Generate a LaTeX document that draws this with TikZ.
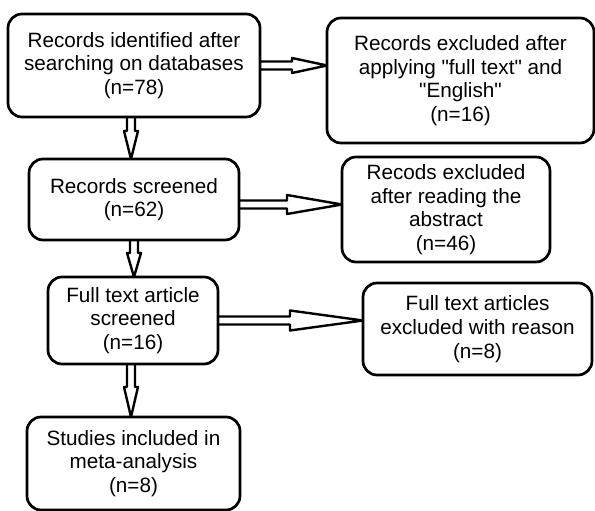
\documentclass[tikz,border=0pt]{standalone}
\usepackage{fontspec}
\setmainfont{Liberation Sans}[Ligatures=TeXOff]
\usetikzlibrary{calc,backgrounds}
\tikzset{
  box/.style={draw=black, line width=2.7pt, rounded corners=14pt, align=center,
              inner sep=0pt, outer sep=0pt, font=\fontsize{20.7}{23.7}\selectfont},
  % hollow block arrow, open at its tail
  fatarr/.style={draw=black, fill=white, line width=2.4pt, line join=round},
}
% #1 from, #2 to, #3 head length, #4 half width of the head
\newcommand{\fatarrow}[4]{%
  \coordinate (fa-s) at #1;
  \coordinate (fa-e) at #2;
  \coordinate (fa-b) at ($(fa-e)!#3!(fa-s)$);
  \filldraw[fatarr] ($(fa-s)!4pt!90:(fa-e)$) -- ($(fa-b)!4pt!90:(fa-e)$)
    -- ($(fa-b)!#4!90:(fa-e)$) -- (fa-e) -- ($(fa-b)!#4!-90:(fa-e)$)
    -- ($(fa-b)!4pt!-90:(fa-e)$) -- ($(fa-s)!4pt!-90:(fa-e)$);
}

\begin{document}
\begin{tikzpicture}[x=1pt,y=1pt]
  \useasboundingbox (0,0) rectangle (595,511);

  % left column
  \node[box, minimum width=252pt, minimum height=103pt] (records) at (134,445.5)
    {Records identified after\\searching on databases\\(n=78)};
  \node[box, minimum width=210pt, minimum height=81pt] (screened) at (134,311.5)
    {Records screened\\(n=62)};
  \node[box, minimum width=170pt, minimum height=87pt] (fulltext) at (133,190.5)
    {Full text article\\screened\\(n=16)};
  \node[box, minimum width=213pt, minimum height=93pt] (included) at (133.5,47.5)
    {Studies included in\\meta-analysis\\(n=8)};

  % right column
  \node[box, minimum width=267pt, minimum height=125pt] (excluded) at (460.5,430.5)
    {Records excluded after\\applying "full text" and\\"English"\\(n=16)};
  \node[box, minimum width=208pt, minimum height=105pt] (abstract) at (446,301.5)
    {Recods excluded\\after reading the\\abstract\\(n=46)};
  \node[box, minimum width=229pt, minimum height=92pt] (reason) at (477.5,182)
    {Full text articles\\excluded with reason\\(n=8)};

  \begin{scope}[on background layer]
    \fatarrow{(records.east)}{(records.east -| excluded.west)}{35pt}{7.5pt}
    \fatarrow{([xshift=-3pt]records.south)}{([xshift=-3pt]records.south |- screened.north)}{28pt}{7pt}
    \fatarrow{([yshift=-5pt]screened.east)}{([yshift=-5pt]screened.east -| abstract.west)}{55pt}{9.5pt}
    \fatarrow{(screened.south)}{(screened.south |- fulltext.north)}{24pt}{7pt}
    \fatarrow{(fulltext.east)}{(fulltext.east -| reason.west)}{73pt}{10pt}
    \fatarrow{([xshift=-2pt]fulltext.south)}{([xshift=-2pt]fulltext.south |- included.north)}{30pt}{7pt}
  \end{scope}
\end{tikzpicture}
\end{document}
